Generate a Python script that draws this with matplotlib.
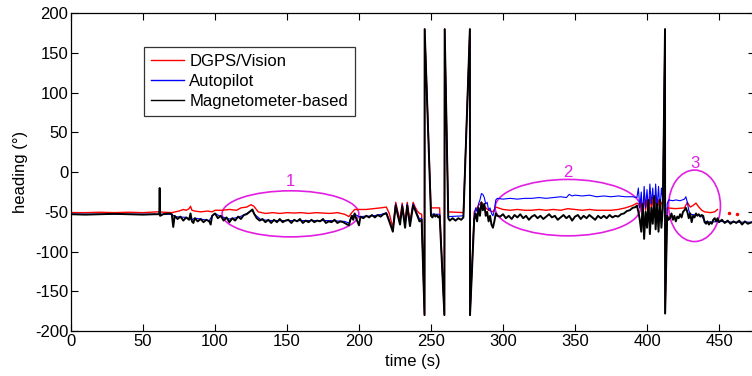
import matplotlib
matplotlib.use("Agg")
import matplotlib.pyplot as plt
from matplotlib.patches import Ellipse

plt.rcParams["font.family"] = ["Liberation Sans", "DejaVu Sans"]
plt.rcParams["axes.unicode_minus"] = False

# --- DGPS/Vision heading (deg) ---
t_gps = [0, 10, 20, 30, 40, 50, 60, 65, 70, 75, 78, 80, 82, 83, 84, 86, 90, 95, 98, 100,
         105, 110, 115, 118, 122, 125, 127, 130, 135, 140, 145, 150, 155, 160, 165, 170,
         175, 180, 185, 190, 193, 195, 197, 205, 210, 215, 219, 221, 223.5, 225.5, 227,
         228.5, 230, 232, 233.5, 235.4, 237.6, 239, 240.5, 242, 243.5, 245.5, 245.6, 250,
         256, 259.3, 259.5, 262, 272.5, 277, 277.1, 280, 283, 285, 288, 290, 293, 295,
         300, 305, 310, 315, 320, 325, 330, 335, 340, 345, 350, 355, 360, 365, 370, 375,
         380, 385, 390, 393,
         394, 395, 396, 397, 398, 399, 400, 401, 402, 403, 404, 405, 406, 407, 408, 409,
         410, 411, 412.5, 412.6, 414, 420, 426, 428, 430, 432, 434, 436, 438, 440, 444,
         447, 449]
hd_gps = [-51, -51, -50.5, -51, -50.5, -51, -50, -50.5, -51, -49, -47, -48, -46, -43, -48,
          -49, -50, -49, -50, -48,
          -48, -47, -48, -45, -44, -41, -43, -50, -52, -51, -52, -51, -51.5, -51, -52, -51,
          -51.5, -52, -51, -53, -56, -51, -47, -47, -46, -45, -44, -52, -70, -38, -50,
          -60, -39, -64, -38, -62, -38, -44, -49, -52, -53, -180, 180, -45,
          -45, -180, 180, -50, -51, 180, -180, -50, -42, -38, -45, -48, -50, -44,
          -47, -48, -47, -48, -48, -47, -48, -47, -48, -46, -47, -48, -47, -48, -48, -48,
          -47, -45, -42, -39,
          -40, -45, -35, -55, -30, -48, -35, -50, -30, -45, -32, -52, -30, -45, -35, -48,
          -38, -40, 180, -178, -45, -46, -45, -38, -44, -42, -39, -44, -48, -50, -51,
          -50, -47]
t_gps_dots = [457, 462.5]
hd_gps_dots = [-52, -53]

# --- Autopilot heading (deg) ---
t_ap = [0, 60, 70, 72, 80, 84, 86, 90, 96, 98, 100, 104, 110, 116, 120, 124, 126, 128,
        132, 140, 150, 160, 170, 180, 190, 193, 195, 197, 200, 210, 216, 219, 221, 223.5,
        225.5, 227, 228.5, 230, 232, 233.5, 235.4, 237.6, 239, 240.5, 242, 243.5, 245.5,
        245.6, 250, 256, 259.3, 259.5, 262, 272.5, 277, 277.1, 280,
        281, 282, 283, 284, 285, 286, 287, 288, 289, 290, 291, 292, 293, 294, 295, 296,
        300, 305, 310, 315, 320, 325, 330, 335, 340, 344, 346, 348, 350, 355, 360, 365,
        370, 375, 380, 385, 390, 393,
        394, 395, 396, 397, 398, 399, 400, 401, 402, 403, 404, 405, 406, 407, 408, 409,
        410, 411, 412.5, 412.6, 414, 415, 418, 420, 423, 426, 427, 428, 429, 430, 434,
        438, 440, 444, 450, 460, 473]
hd_ap = [-53, -53, -53, -56, -57, -60, -58, -59, -61, -55, -52, -56, -59, -57, -54, -50,
         -48, -54, -60, -61, -61, -61, -61, -61, -62, -64, -56, -53, -56, -55, -53, -51,
         -60, -74, -40, -53, -65, -41, -68, -40, -66, -40, -46, -53, -59, -58, -180,
         180, -53, -53, -180, 180, -56, -55, 180, -180, -55,
         -45, -50, -40, -35, -27, -28, -32, -40, -38, -48, -45, -52, -55, -48, -35, -33,
         -34, -33, -34, -33, -33, -32, -33, -32, -31, -32, -28, -30, -29, -30, -29, -31,
         -30, -31, -30, -31, -31, -32,
         -20, -45, -25, -55, -18, -45, -22, -50, -15, -40, -20, -55, -15, -45, -18, -50,
         -20, -35, 180, -178, -40, -35, -36, -35, -36, -34, -31, -38, -48, -53, -54,
         -55, -62, -63, -62, -63, -63]

# --- Magnetometer-based heading (deg) ---
t_mag = ([0, 10, 20, 30, 40, 50, 58, 61.3, 61.6, 61.9, 64, 68, 70, 71, 72, 74, 76, 78, 80,
          82, 83, 84, 85, 86, 88, 90, 92, 94, 96, 97, 98, 100]
         + list(range(102, 127, 2)) + [127]
         + list(range(129, 194, 2))
         + [194, 195, 196, 197, 198, 200, 201]
         + list(range(203, 218, 2))
         + [219, 221, 223.5, 225.5, 227, 228.5, 230, 232, 233.5, 235.4, 237.6, 239, 240.5,
            242, 243.5, 245.5, 245.6, 250, 251, 252, 253, 254, 255, 256, 259.3, 259.5,
            262, 263, 265, 267, 269, 271, 272.5, 277, 277.1, 280]
         + list(range(281, 297))
         + list(range(298, 391, 2))
         + [392, 393]
         + list(range(394, 412))
         + [412.5, 412.6]
         + list(range(414, 451))
         + list(range(452, 471, 2)) + [473])
hd_mag = [-53, -53.5, -53, -52.5, -53, -53.5, -53, -53, -20, -55, -53, -52, -53, -69, -55,
          -59, -56, -61, -57, -60, -52, -62, -64, -58, -62, -59, -63, -60, -62, -66, -55, -52,
          # 102-126
          -58, -55, -61, -57, -63, -58, -61, -56, -59, -54, -53, -50, -47, -52,
          # 129-193
          -58, -61, -59, -63, -60, -64, -60, -63, -59, -63, -61, -60, -64, -60, -62, -59,
          -64, -61, -63, -60, -63, -61, -62, -59, -64, -62, -63, -60, -64, -62, -63, -65, -67,
          -60, -55, -60, -52, -58, -67, -56,
          -58, -55, -57, -54, -57, -54, -56, -53,
          -52, -62, -75, -42, -55, -66, -43, -70, -42, -68, -42, -48, -55,
          -62, -60, -180, 180, -55, -57, -53, -56, -54, -57, -55, -180, 180,
          -58, -61, -58, -61, -58, -60, -57, 180, -180, -60,
          # 281-296
          -52, -62, -45, -55, -38, -48, -40, -55, -50, -62, -55, -66, -70, -62, -52, -55,
          # 298-390
          -56, -53, -58, -55, -59, -54, -57, -53, -58, -55,
          -60, -56, -54, -58, -55, -59, -56, -53, -57, -55,
          -60, -57, -54, -58, -55, -61, -56, -54, -59, -55,
          -58, -54, -57, -60, -55, -58, -55, -58, -54, -57,
          -55, -56, -53, -52, -49, -48, -45,
          -44, -42,
          # 394-411
          -50, -60, -75, -40, -84, -50, -70, -35, -78, -45, -65, -30, -72, -40, -75, -35,
          -70, -45,
          180, -178,
          # 414-450
          -55, -60, -58, -52, -60, -55, -62, -56, -58, -53, -57, -50, -48, -45, -50, -58,
          -52, -63, -55, -57, -52, -55, -53, -56, -54, -55, -63, -65, -62, -66, -63, -65,
          -60, -58, -62, -58, -63,
          # 452-473
          -60, -64, -61, -65, -62, -64, -61, -66, -62, -65, -63]

# --- annotated regions: (centre t, centre heading, width, height, label) ---
region_cx = [152.4, 345, 433]
region_cy = [-52.5, -44.7, -42.4]
region_w = [95, 101, 36]
region_h = [58, 71, 90]
region_lbl = ["1", "2", "3"]
region_lbl_y = [-12, -1, 11]

fig = plt.figure(figsize=(7.52, 3.76), dpi=100)
ax = fig.add_axes([0.0944, 0.1197, 0.9096, 0.845])

ax.plot(t_gps, hd_gps, color="red", lw=1.0, label="DGPS/Vision")
ax.plot(t_ap, hd_ap, color="blue", lw=0.8, label="Autopilot")
ax.plot(t_mag, hd_mag, color="black", lw=1.4, label="Magnetometer-based")
ax.plot(t_gps_dots, hd_gps_dots, ".", color="red", ms=3)

mag = "#e21ee2"
for cx, cy, w, h, lbl, ly in zip(region_cx, region_cy, region_w, region_h,
                                 region_lbl, region_lbl_y):
    ax.add_patch(Ellipse((cx, cy), w, h, fill=False, edgecolor=mag, lw=1.2))
    ax.text(cx, ly, lbl, color=mag, fontsize=12, ha="center", va="center")

ax.set_xlim(0, 475)
ax.set_ylim(-200, 200)
ax.set_xticks(range(0, 451, 50))
ax.set_yticks(range(-200, 201, 50))
ax.tick_params(direction="in", top=True, right=True, length=5, width=0.8,
               labelsize=12, pad=2)
for s in ax.spines.values():
    s.set_linewidth(0.9)

ax.set_xlabel("time (s)", fontsize=12, labelpad=4)
ax.set_ylabel("heading (°)", fontsize=12, labelpad=5)

leg = ax.legend(loc="upper left", bbox_to_anchor=(0.107, 0.893), borderaxespad=0,
                fontsize=12, frameon=True, fancybox=False, handlelength=2.0,
                handletextpad=0.3, labelspacing=0.3, borderpad=0.4)
leg.get_frame().set_edgecolor("black")
leg.get_frame().set_linewidth(0.9)
for ln in leg.get_lines():
    ln.set_linewidth(1.0)

fig.savefig("out.png", dpi=100)
